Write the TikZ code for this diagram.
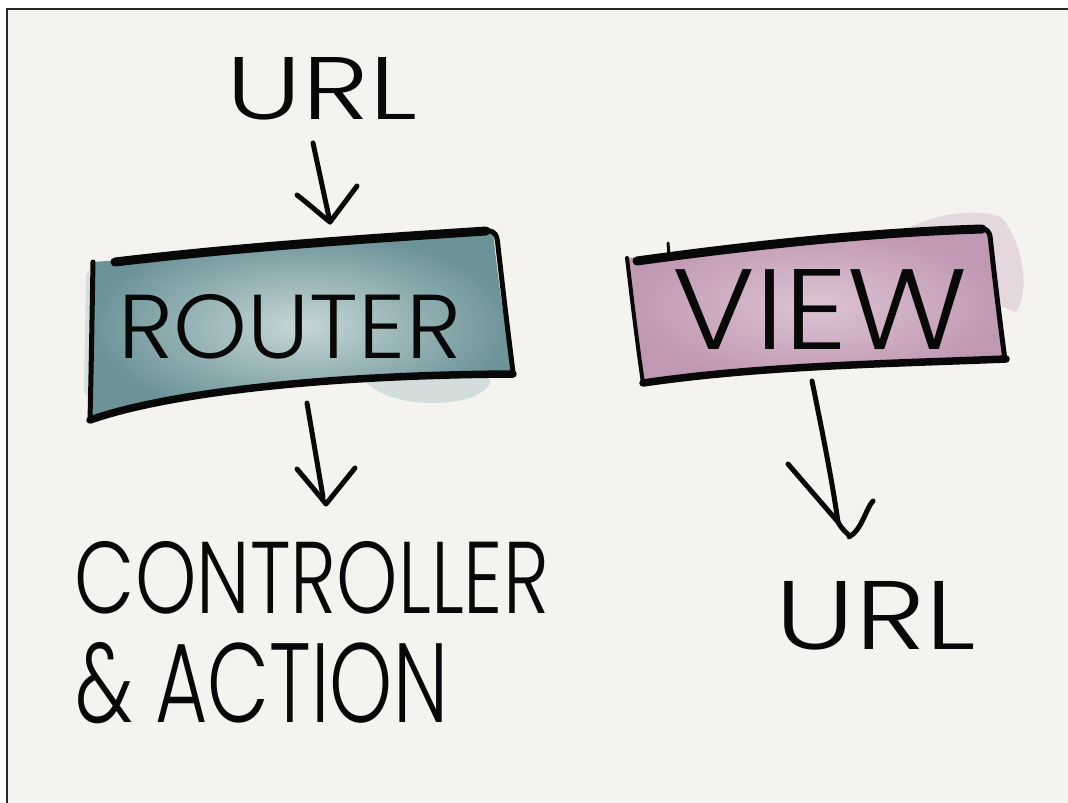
\documentclass[tikz,border=0pt]{standalone}
\usepackage{fontspec}
\setmainfont{Poppins}[UprightFont={* Light}]
\usetikzlibrary{calc}
\definecolor{paper}{RGB}{244,243,239}
\definecolor{frameline}{RGB}{40,40,40}
\definecolor{ink}{RGB}{8,8,8}
\definecolor{tealdark}{RGB}{108,147,152}
\definecolor{teallight}{RGB}{198,214,214}
\definecolor{tealwash}{RGB}{170,195,197}
\definecolor{pinkdark}{RGB}{192,152,180}
\definecolor{pinklight}{RGB}{220,196,211}
\definecolor{pinkwash}{RGB}{215,188,206}
\tikzset{
  pen/.style={draw=ink, line width=5pt, line cap=round, line join=round},
  heavypen/.style={draw=ink, line width=9pt, line cap=round, line join=round},
  hand/.style={inner sep=0pt, text=ink},
  arrowpen/.style={draw=ink, line width=5pt, line cap=round, line join=round},
}
\newcommand{\fitword}[3]{\resizebox{#1}{#2}{#3}}
\begin{document}
\begin{tikzpicture}[x=1pt,y=-1pt]
  % page and paper sheet
  \fill[white] (0,0) rectangle (1068,803);
  \useasboundingbox (0,0) rectangle (1068,803);
  \fill[paper] (7,9) rectangle (1068,803);
  \draw[frameline, line width=1.6pt] (7,803) -- (7,9) -- (1068,9);

  % ---------- ROUTER box ----------
  % watercolour wash
  \fill[tealwash, opacity=0.45] (360,376) .. controls (385,408) and (445,406) .. (470,398)
        .. controls (495,388) and (495,376) .. (480,372) -- cycle;
  \fill[tealwash, opacity=0.4] (86,275) -- (96,262) -- (96,410) -- (84,392) -- cycle;
  \shade[inner color=teallight, outer color=tealdark]
    (93,262) -- (493,232) .. controls (500,300) and (508,340) .. (512,372)
    .. controls (330,375) and (170,392) .. (90,420) -- cycle;
  % outline
  \draw[pen] (93,262) .. controls (92,320) and (91,380) .. (90,420);
  \draw[heavypen] (115,262) .. controls (250,246) and (380,238) .. (486,231);
  \draw[pen] (486,231) .. controls (496,230) and (497,236) .. (498,246)
        .. controls (504,300) and (509,340) .. (513,372);
  \draw[heavypen, line width=7.5pt] (90,420) .. controls (170,392) and (330,375) .. (513,374);
  \node[hand] (router) at (290,327) {\fitword{342pt}{64pt}{ROUTER}};

  % ---------- VIEW box ----------
  \fill[pinkwash, opacity=0.5] (905,230) .. controls (935,212) and (985,208) .. (1002,218)
        .. controls (1024,245) and (1030,292) .. (1016,312) -- (998,305) -- (988,232) -- cycle;
  \shade[inner color=pinklight, outer color=pinkdark]
    (627,258) -- (987,228) .. controls (995,270) and (1000,320) .. (1005,360)
    .. controls (900,362) and (780,366) .. (643,383) -- cycle;
  \draw[pen, line width=4pt] (627,258) .. controls (632,300) and (638,350) .. (643,383);
  \draw[heavypen] (637,261) .. controls (760,244) and (880,232) .. (982,229);
  \draw[pen, line width=3pt] (668,243) -- (669,256);
  \draw[pen] (982,229) .. controls (990,229) and (990,235) .. (991,245)
        .. controls (996,290) and (1001,330) .. (1005,360);
  \draw[heavypen, line width=7.5pt] (643,383) .. controls (760,366) and (880,364) .. (1006,359);
  \node[hand] (view) at (820,310) {\fitword{295pt}{80pt}{VIEW}};

  % ---------- texts ----------
  \node[hand] (urltop) at (322,89) {\fitword{190pt}{62pt}{URL}};
  \node[hand] (controller) at (312,578) {\fitword{474pt}{72pt}{CONTROLLER}};
  \node[hand] (action) at (262,683) {\fitword{372pt}{80pt}{\&\ ACTION}};
  \node[hand] (urlbottom) at (876,616) {\fitword{200pt}{68pt}{URL}};

  % ---------- arrows ----------
  % URL -> ROUTER
  \coordinate (a1s) at (313,143);
  \coordinate (a1t) at (330,222);
  \coordinate (a1l) at (297,195);
  \coordinate (a1r) at (357,186);
  \draw[arrowpen] (a1s) -- (a1t);
  \draw[arrowpen] (a1l) .. controls (310,205) and (322,216) .. (a1t) -- (a1r);

  % ROUTER -> CONTROLLER & ACTION
  \coordinate (a2s) at (307,403);
  \coordinate (a2t) at (326,504);
  \coordinate (a2l) at (297,469);
  \coordinate (a2r) at (355,468);
  \draw[arrowpen] (a2s) -- (323,497);
  \draw[arrowpen] (a2l) .. controls (308,482) and (318,494) .. (a2t) -- (a2r);

  % VIEW -> URL
  \coordinate (a3s) at (812,381);
  \coordinate (a3t) at (849,537);
  \coordinate (a3l) at (788,464);
  \coordinate (a3r) at (873,501);
  \draw[arrowpen] (a3s) .. controls (822,430) and (832,480) .. (838,522);
  \draw[arrowpen] (a3l) -- (838,522) .. controls (843,532) and (852,536) .. (a3t)
        .. controls (862,530) and (866,508) .. (a3r);
\end{tikzpicture}
\end{document}
